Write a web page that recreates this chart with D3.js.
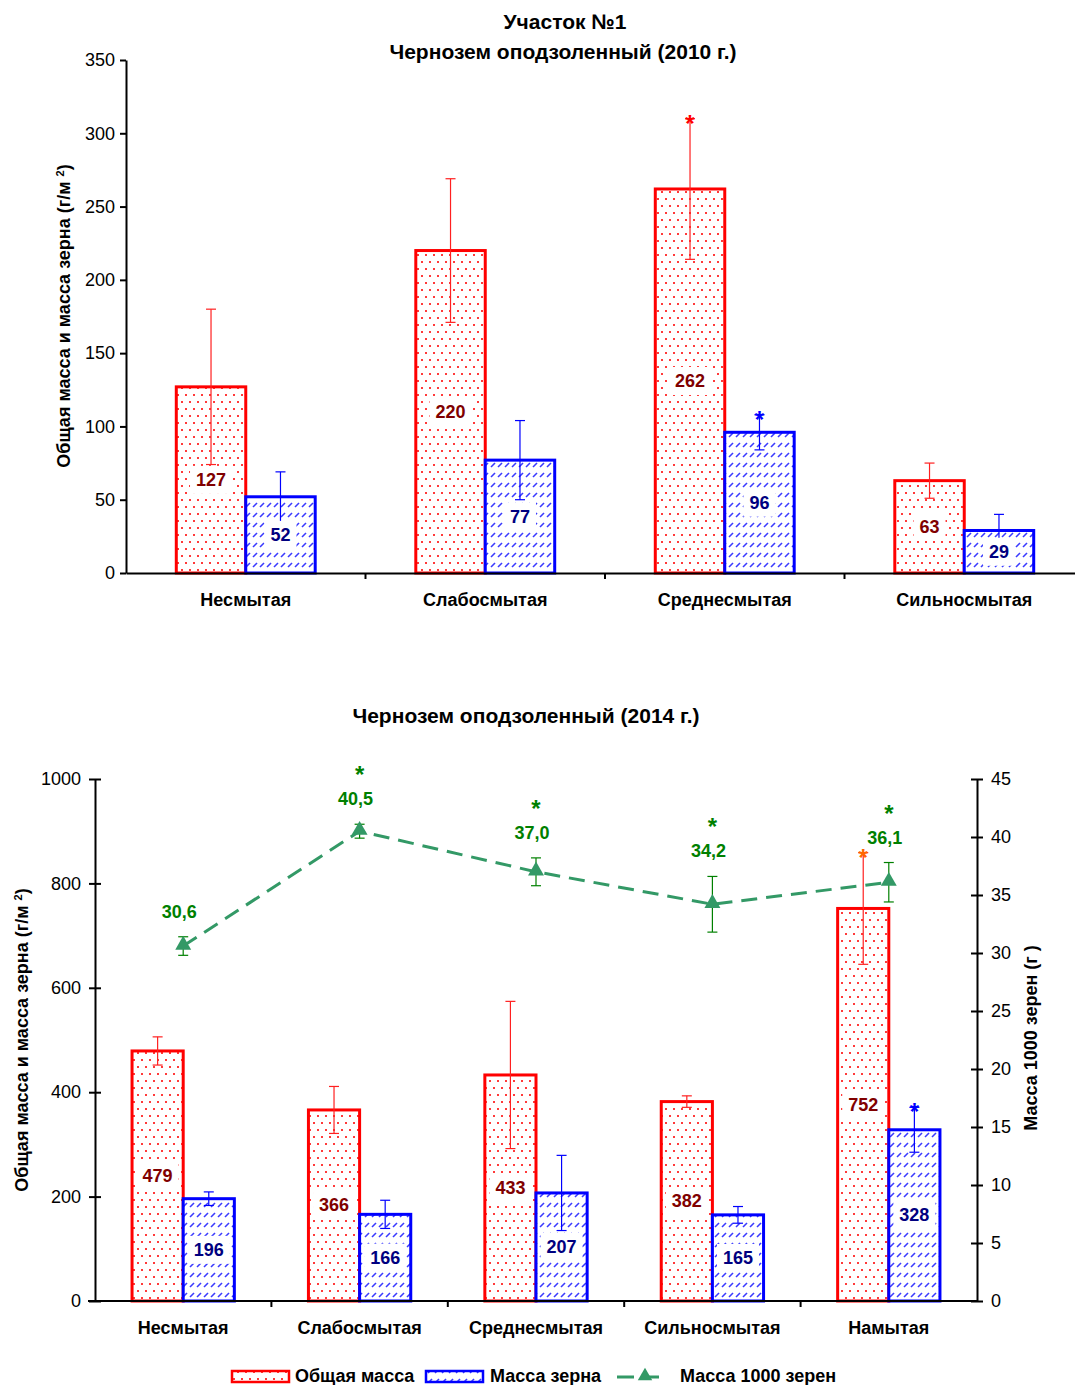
<!DOCTYPE html>
<html>
<head>
<meta charset="utf-8">
<script src="https://cdn.jsdelivr.net/npm/d3@7"></script>
<style>
  body { margin: 0; background: #fff; }
  svg { font-family: "Liberation Sans", Arial, sans-serif; }
  .tick text { font-size: 18px; fill: #000; }
  .axis path, .axis line { stroke: #000; stroke-width: 2px; }
</style>
</head>
<body>
<svg id="chart" width="1075" height="1385"></svg>
<script>
// ---- data: 2010 ----
var cats2010 = ["Несмытая", "Слабосмытая", "Среднесмытая", "Сильносмытая"];
var total2010 = [127, 220, 262, 63];
var totalErr2010 = [53, 49, 48, 12];
var grain2010 = [52, 77, 96, 29];
var grainErr2010 = [17, 27, 12, 11];
var totalStar2010 = [false, false, true, false];
var grainStar2010 = [false, false, true, false];

// ---- data: 2014 ----
var cats2014 = ["Несмытая", "Слабосмытая", "Среднесмытая", "Сильносмытая", "Намытая"];
var total2014 = [479, 366, 433, 382, 752];
var totalErr2014 = [27, 45, 141, 11, 107];
var grain2014 = [196, 166, 207, 165, 328];
var grainErr2014 = [13, 27, 72, 16, 43];
var thousand2014 = [30.6, 40.5, 37.0, 34.2, 36.1];
var thousandErr2014 = [0.8, 0.6, 1.2, 2.4, 1.7];
var totalStar2014 = [false, false, false, false, true];
var grainStar2014 = [false, false, false, false, true];
var thousandStar2014 = [false, true, true, true, true];

var leftTicks2010 = d3.range(0, 351, 50);
var leftTicks2014 = d3.range(0, 1001, 200);
var rightTicks2014 = d3.range(0, 46, 5);

var svg = d3.select("#chart");
var defs = svg.append("defs");

// red dotted fill
var pr = defs.append("pattern").attr("id", "dots").attr("patternUnits", "userSpaceOnUse")
  .attr("width", 8).attr("height", 14);
pr.append("rect").attr("width", 8).attr("height", 14).attr("fill", "#fff");
pr.append("rect").attr("x", 1).attr("y", 2).attr("width", 2).attr("height", 2).attr("fill", "#ff3a3a");
pr.append("rect").attr("x", 5).attr("y", 9).attr("width", 2).attr("height", 2).attr("fill", "#ff3a3a");

// blue slanted dashes
var pb = defs.append("pattern").attr("id", "dashes").attr("patternUnits", "userSpaceOnUse")
  .attr("width", 7).attr("height", 10);
pb.append("rect").attr("width", 7).attr("height", 10).attr("fill", "#fff");
pb.append("line").attr("x1", 1).attr("y1", 7).attr("x2", 5).attr("y2", 3)
  .attr("stroke", "#3b3bff").attr("stroke-width", 1.6);

var BAR_RATIO = 0.29;

function yTitle(x, y, text, sup) {
  var t = svg.append("text")
    .attr("transform", "translate(" + x + "," + y + ") rotate(-90)")
    .attr("text-anchor", "middle")
    .attr("font-size", 18).attr("font-weight", "bold")
    .text(text);
  if (sup) {
    t.append("tspan").attr("baseline-shift", "super").attr("font-size", 11).text(sup);
    t.append("tspan").text(")");
  }
}

function errBar(g, cx, yTop, yBot, color, w) {
  g.append("line").attr("x1", cx).attr("x2", cx).attr("y1", yTop).attr("y2", yBot)
    .attr("stroke", color).attr("stroke-width", 1.2);
  [yTop, yBot].forEach(function (yy) {
    g.append("line").attr("x1", cx - w).attr("x2", cx + w).attr("y1", yy).attr("y2", yy)
      .attr("stroke", color).attr("stroke-width", 1.2);
  });
}

function star(g, x, y, color) {
  g.append("text").attr("x", x).attr("y", y).attr("text-anchor", "middle")
    .attr("font-size", 24).attr("font-weight", "bold").attr("fill", color).text("*");
}

function valueLabel(g, x, y, txt, color) {
  var w = txt.length * 10 + 12;
  g.append("rect").attr("x", x - w / 2).attr("y", y - 14).attr("width", w).attr("height", 28)
    .attr("fill", "#fff");
  g.append("text").attr("x", x).attr("y", y + 6).attr("text-anchor", "middle")
    .attr("font-size", 18).attr("font-weight", "bold").attr("fill", color).text(txt);
}

function drawBars(g, cats, x, y, tot, totErr, gr, grErr, totStar, grStar) {
  var bw = x.step() * BAR_RATIO;
  cats.forEach(function (c, i) {
    var cx = x(c) + x.bandwidth() / 2;
    // total mass
    g.append("rect").attr("x", cx - bw).attr("y", y(tot[i])).attr("width", bw)
      .attr("height", y(0) - y(tot[i])).attr("fill", "url(#dots)")
      .attr("stroke", "#ff0000").attr("stroke-width", 3);
    // grain mass
    g.append("rect").attr("x", cx).attr("y", y(gr[i])).attr("width", bw)
      .attr("height", y(0) - y(gr[i])).attr("fill", "url(#dashes)")
      .attr("stroke", "#0000ff").attr("stroke-width", 3);
    errBar(g, cx - bw / 2, y(tot[i] + totErr[i]), y(tot[i] - totErr[i]), "#ff2020", 5);
    errBar(g, cx + bw / 2, y(gr[i] + grErr[i]), y(gr[i] - grErr[i]), "#0000ff", 5);
    valueLabel(g, cx - bw / 2, y(tot[i] / 2), String(tot[i]), "#800000");
    valueLabel(g, cx + bw / 2, y(gr[i] / 2), String(gr[i]), "#000080");
    if (totStar[i]) star(g, cx - bw / 2, y(tot[i] + totErr[i]) + 13, i === 4 ? "#ff6600" : "#ff0000");
    if (grStar[i]) star(g, cx + bw / 2, y(gr[i] + grErr[i]) + 13, "#0000ff");
  });
}

// ================= chart 1 (2010) =================
(function () {
  var x = d3.scaleBand().domain(cats2010).range([126, 1084]).padding(0);
  var y = d3.scaleLinear().domain([0, 350]).range([573, 60]);

  svg.append("text").attr("x", 565).attr("y", 29).attr("text-anchor", "middle")
    .attr("font-size", 21).attr("font-weight", "bold").text("Участок №1");
  svg.append("text").attr("x", 563).attr("y", 59).attr("text-anchor", "middle")
    .attr("font-size", 21).attr("font-weight", "bold").text("Чернозем оподзоленный (2010 г.)");

  var g = svg.append("g");
  drawBars(g, cats2010, x, y, total2010, totalErr2010, grain2010, grainErr2010, totalStar2010, grainStar2010);

  svg.append("g").attr("class", "axis").attr("transform", "translate(126,0)")
    .call(d3.axisLeft(y).tickValues(leftTicks2010).tickFormat(d3.format("d"))
      .tickSizeInner(6).tickSizeOuter(0).tickPadding(5));
  var xa = svg.append("g").attr("class", "axis").attr("transform", "translate(0,573)")
    .call(d3.axisBottom(x).tickSize(0).tickPadding(20));
  xa.selectAll(".tick text").attr("font-weight", "bold");
  xa.selectAll(".bound").data(cats2010.slice(1)).enter().append("line")
    .attr("x1", function (c) { return x(c); }).attr("x2", function (c) { return x(c); })
    .attr("y1", 0).attr("y2", 6).attr("stroke", "#000").attr("stroke-width", 2);

  yTitle(70, 316, "Общая масса и масса зерна (г/м ", "2");
})();

// ================= chart 2 (2014) =================
(function () {
  var x = d3.scaleBand().domain(cats2014).range([95, 977]).padding(0);
  var y = d3.scaleLinear().domain([0, 1000]).range([1301, 779]);
  var y2 = d3.scaleLinear().domain([0, 45]).range([1301, 779]);

  svg.append("text").attr("x", 526).attr("y", 723).attr("text-anchor", "middle")
    .attr("font-size", 21).attr("font-weight", "bold").text("Чернозем оподзоленный (2014 г.)");

  var g = svg.append("g");
  drawBars(g, cats2014, x, y, total2014, totalErr2014, grain2014, grainErr2014, totalStar2014, grainStar2014);

  // 1000-grain mass line
  var cx = function (c) { return x(c) + x.bandwidth() / 2; };
  var pts = cats2014.map(function (c, i) { return [cx(c), y2(thousand2014[i])]; });
  g.append("path").attr("d", d3.line()(pts)).attr("fill", "none")
    .attr("stroke", "#339966").attr("stroke-width", 3).attr("stroke-dasharray", "16,9");
  cats2014.forEach(function (c, i) {
    var v = thousand2014[i], e = thousandErr2014[i];
    errBar(g, cx(c), y2(v + e), y2(v - e), "#008000", 5);
    g.append("path").attr("d", d3.symbol(d3.symbolTriangle, 110)())
      .attr("transform", "translate(" + cx(c) + "," + (y2(v) - 1) + ")")
      .attr("fill", "#339966");
    var ly = y2(v + e) - 25;
    g.append("text").attr("x", cx(c) - 4).attr("y", ly + 6).attr("text-anchor", "middle")
      .attr("font-size", 18).attr("font-weight", "bold").attr("fill", "#008000")
      .text(d3.format(".1f")(v).replace(".", ","));
    if (thousandStar2014[i]) star(g, cx(c), ly - 16, "#008000");
  });

  svg.append("g").attr("class", "axis").attr("transform", "translate(95,0)")
    .call(d3.axisLeft(y).tickValues(leftTicks2014).tickFormat(d3.format("d"))
      .tickSizeInner(6).tickSizeOuter(0).tickPadding(8))
    .selectAll(".tick line").attr("x2", 6).attr("x1", -6);
  svg.append("g").attr("class", "axis").attr("transform", "translate(977,0)")
    .call(d3.axisRight(y2).tickValues(rightTicks2014).tickFormat(d3.format("d"))
      .tickSizeInner(6).tickSizeOuter(0).tickPadding(8))
    .selectAll(".tick line").attr("x1", -6).attr("x2", 6);
  var xa = svg.append("g").attr("class", "axis").attr("transform", "translate(0,1301)")
    .call(d3.axisBottom(x).tickSize(0).tickPadding(20));
  xa.select(".domain").attr("d", "M88,0H977");
  xa.selectAll(".tick text").attr("font-weight", "bold");
  xa.selectAll(".bound").data(cats2014.slice(1)).enter().append("line")
    .attr("x1", function (c) { return x(c); }).attr("x2", function (c) { return x(c); })
    .attr("y1", 0).attr("y2", 6).attr("stroke", "#000").attr("stroke-width", 2);

  yTitle(28, 1040, "Общая масса и масса зерна (г/м ", "2");
  svg.append("text").attr("transform", "translate(1037,1038) rotate(-90)")
    .attr("text-anchor", "middle").attr("font-size", 18).attr("font-weight", "bold")
    .text("Масса 1000 зерен (г )");

  // legend
  var lg = svg.append("g").attr("transform", "translate(0,1376)");
  lg.append("rect").attr("x", 232).attr("y", -5).attr("width", 57).attr("height", 11)
    .attr("fill", "url(#dots)").attr("stroke", "#ff0000").attr("stroke-width", 2.5);
  lg.append("text").attr("x", 295).attr("y", 6).attr("font-size", 18).attr("font-weight", "bold")
    .text("Общая масса");
  lg.append("rect").attr("x", 426).attr("y", -5).attr("width", 57).attr("height", 11)
    .attr("fill", "url(#dashes)").attr("stroke", "#0000ff").attr("stroke-width", 2.5);
  lg.append("text").attr("x", 490).attr("y", 6).attr("font-size", 18).attr("font-weight", "bold")
    .text("Масса зерна");
  lg.append("line").attr("x1", 617).attr("x2", 667).attr("y1", 1).attr("y2", 1)
    .attr("stroke", "#339966").attr("stroke-width", 3).attr("stroke-dasharray", "17,8");
  lg.append("path").attr("d", d3.symbol(d3.symbolTriangle, 90)())
    .attr("transform", "translate(645,0)").attr("fill", "#339966");
  lg.append("text").attr("x", 680).attr("y", 6).attr("font-size", 18).attr("font-weight", "bold")
    .text("Масса 1000 зерен");
})();
</script>
</body>
</html>
